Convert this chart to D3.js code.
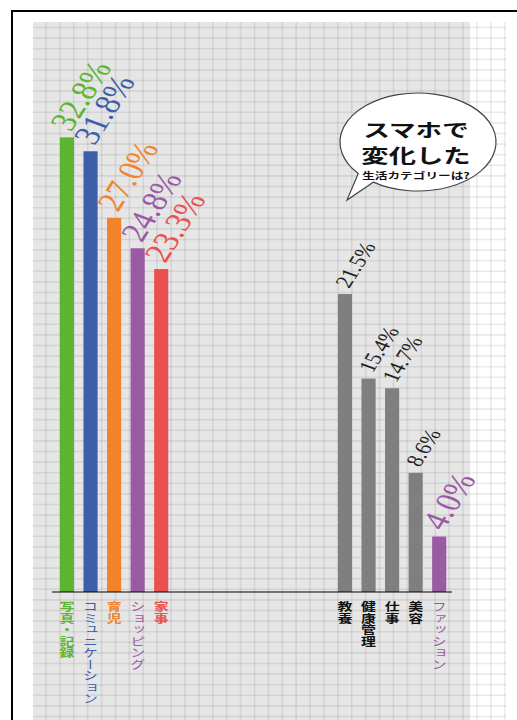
<!DOCTYPE html>
<html lang="ja">
<head>
<meta charset="utf-8">
<title>スマホで変化した生活カテゴリー</title>
<script src="https://cdn.jsdelivr.net/npm/d3@7"></script>
<style>
  body { margin: 0; background: #fff; }
  svg { display: block; }
</style>
</head>
<body>
<div id="chart"></div>
<script>
// data (percent)
var leftCats   = ["写真・記録", "コミュニケーション", "育児", "ショッピング", "家事"];
var leftVals   = [32.8, 31.8, 27.0, 24.8, 23.3];
var leftColors = ["#5cb531", "#3d5fa9", "#f1832d", "#9a5aa4", "#e8514f"];

var rightCats   = ["教養", "健康管理", "仕事", "美容", "ファッション"];
var rightVals   = [21.5, 15.4, 14.7, 8.6, 4.0];
var rightColors = ["#7f7f7f", "#7f7f7f", "#7f7f7f", "#7f7f7f", "#9a5aa4"];

var bubbleLines = ["スマホで", "変化した", "生活カテゴリーは?"];

var W = 517, H = 720;
var GRAY = "#7f7f7f";
var SX = 1.3; // the original art is stretched sideways

var svg = d3.select("#chart").append("svg")
    .attr("width", W)
    .attr("height", H);

// frame
svg.append("rect").attr("x", 0).attr("y", 0).attr("width", W).attr("height", H).attr("fill", "#fff");
svg.append("rect").attr("x", 33).attr("y", 22).attr("width", 437).attr("height", H - 22).attr("fill", "#e6e6e6");

// grid paper
var grid = svg.append("g").attr("stroke", "rgba(0,0,0,0.08)").attr("stroke-width", 1.6);
d3.range(46, 506, 13.9).forEach(function(x) {
    grid.append("line").attr("x1", x).attr("x2", x).attr("y1", 22).attr("y2", H);
});
d3.range(27.5, H, 10.6).forEach(function(y) {
    grid.append("line").attr("x1", 33).attr("x2", 506).attr("y1", y).attr("y2", y);
});

svg.append("line").attr("x1", 12).attr("x2", W).attr("y1", 11).attr("y2", 11)
    .attr("stroke", "#000").attr("stroke-width", 2);
svg.append("line").attr("x1", 12).attr("x2", 12).attr("y1", 10).attr("y2", H)
    .attr("stroke", "#000").attr("stroke-width", 2);

// scales
var baseY = 592;
var y = d3.scaleLinear().domain([0, 35]).range([baseY, baseY - 35 * 13.86]);

var xLeft = d3.scaleBand().domain(leftCats).range([55.2, 173]).paddingInner(0.4).paddingOuter(0.2);
var xRight = d3.scaleBand().domain(rightCats).range([333.2, 451]).paddingInner(0.4).paddingOuter(0.2);

function drawGroup(cats, vals, colors, x) {
    var data = cats.map(function(c, i) { return { cat: c, val: vals[i], color: colors[i] }; });
    var g = svg.append("g");

    g.selectAll("rect.bar")
        .data(data)
        .enter().append("rect")
        .attr("class", "bar")
        .attr("x", function(d) { return x(d.cat); })
        .attr("width", x.bandwidth())
        .attr("y", function(d) { return y(d.val); })
        .attr("height", function(d) { return baseY - y(d.val); })
        .attr("fill", function(d) { return d.color; });

    // value labels, slanted
    g.selectAll("text.val")
        .data(data)
        .enter().append("text")
        .attr("class", "val")
        .attr("transform", function(d) {
            var cx = x(d.cat) + x.bandwidth() / 2;
            return "translate(" + (cx + 4) + "," + (y(d.val) - 5) + ") scale(" + SX + ",1) rotate(-64)";
        })
        .attr("font-family", "'Liberation Serif', serif")
        .attr("font-size", function(d) { return d.color === GRAY ? 18.5 : 28; })
        .attr("fill", function(d) { return d.color === GRAY ? "#222" : d.color; })
        .text(function(d) { return d3.format(".1f")(d.val) + "%"; });

    // category names, vertical
    g.selectAll("text.cat")
        .data(data)
        .enter().append("text")
        .attr("class", "cat")
        .attr("transform", function(d) {
            var cx = x(d.cat) + x.bandwidth() / 2;
            return "translate(" + cx + ",601) scale(" + SX + ",1)";
        })
        .style("writing-mode", "vertical-rl")
        .attr("font-family", "'Noto Sans CJK JP', sans-serif")
        .attr("font-size", 11.5)
        .attr("font-weight", function(d) { return /[\u4e00-\u9fff]/.test(d.cat) ? "bold" : "normal"; })
        .attr("fill", function(d) { return d.color === GRAY ? "#111" : d.color; })
        .text(function(d) { return d.cat; });
}

drawGroup(leftCats, leftVals, leftColors, xLeft);
drawGroup(rightCats, rightVals, rightColors, xRight);

// baseline
svg.append("line").attr("x1", 52).attr("x2", 452).attr("y1", baseY).attr("y2", baseY)
    .attr("stroke", "#000").attr("stroke-width", 1.2);

// speech bubble
var bx = 418, by = 142, rx = 78, ry = 49;
function pt(deg) {
    var t = deg * Math.PI / 180;
    return [bx + rx * Math.cos(t), by + ry * Math.sin(t)];
}
var p1 = pt(140), p2 = pt(125), tip = [347, 200];
svg.append("path")
    .attr("d", "M" + p1 + "L" + tip + "L" + p2 + "A" + rx + " " + ry + " 0 1 0 " + p1 + "Z")
    .attr("fill", "#fff")
    .attr("stroke", "#444")
    .attr("stroke-width", 1.2);

var bt = svg.append("g")
    .attr("font-family", "'Noto Sans CJK JP', sans-serif")
    .attr("font-weight", "bold")
    .attr("fill", "#111")
    .attr("text-anchor", "middle");
[[bubbleLines[0], 136.5, 18.5], [bubbleLines[1], 163, 19], [bubbleLines[2], 178.5, 8.8]].forEach(function(l) {
    bt.append("text")
        .attr("transform", "translate(416," + l[1] + ") scale(1.44,1)")
        .attr("font-size", l[2])
        .text(l[0]);
});
</script>
</body>
</html>
